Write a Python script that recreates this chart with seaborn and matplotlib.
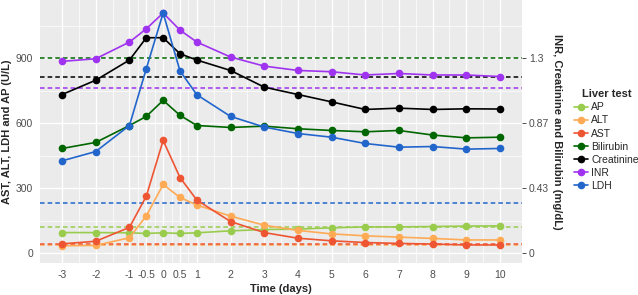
import numpy as np
import pandas as pd
import matplotlib
matplotlib.use('Agg')
import matplotlib.pyplot as plt
import seaborn as sns

# time points (days)
days = [-3, -2, -1, -0.5, 0, 0.5, 1, 2, 3, 4, 5, 6, 7, 8, 9, 10]
tick_labels = ['-3', '-2', '-1', '-0.5', '0', '0.5', '1', '2', '3', '4', '5', '6', '7', '8', '9', '10']

# values in left-axis units (INR, creatinine, bilirubin are rescaled by 900/1.3)
ap = [95, 95, 94, 91, 94, 91, 94, 103, 109, 111, 117, 121, 121, 123, 125, 126]
alt = [34, 36, 71, 172, 317, 257, 222, 171, 129, 105, 89, 80, 74, 68, 61, 61]
ast = [43, 55, 119, 263, 520, 349, 245, 146, 95, 69, 57, 49, 45, 42, 38, 38]
bilirubin = [483, 511, 589, 631, 705, 636, 589, 580, 586, 574, 566, 560, 566, 545, 532, 535]
creatinine = [732, 798, 891, 994, 994, 920, 891, 843, 766, 732, 698, 663, 669, 663, 666, 665]
inr = [885, 897, 974, 1035, 1108, 1029, 974, 905, 863, 843, 837, 822, 829, 822, 822, 815]
ldh = [426, 469, 589, 851, 1108, 841, 731, 631, 582, 552, 535, 506, 489, 492, 480, 483]

tests = ['AP', 'ALT', 'AST', 'Bilirubin', 'Creatinine', 'INR', 'LDH']
colors = ['#99CC4D', '#FFAA55', '#EE5533', '#006600', '#000000', '#A033F0', '#2266CC']
# upper reference limits, left-axis units
ref_limits = [120, 38, 40, 900, 815, 760, 233]

scale = 900 / 1.3

series = [ap, alt, ast, bilirubin, creatinine, inr, ldh]
df = pd.DataFrame({
    'Time': days * len(tests),
    'Value': np.concatenate(series),
    'Liver test': np.repeat(tests, len(days)),
})

sns.set_theme(style='darkgrid')
plt.rcParams['font.family'] = ['Liberation Sans', 'DejaVu Sans']

fig = plt.figure(figsize=(6.38, 2.95), dpi=100)
ax = fig.add_axes([0.063, 0.108, 0.755, 0.892])
ax.set_facecolor('#EBEBEB')

palette = dict(zip(tests, colors))
for t, c, r in zip(tests, colors, ref_limits):
    ax.axhline(r, color=c, ls='--', lw=1.1, dashes=(3, 2), zorder=2)

sns.lineplot(data=df, x='Time', y='Value', hue='Liver test', palette=palette,
             hue_order=tests, marker='o', markersize=5.5, markeredgewidth=0,
             lw=1.2, ax=ax, zorder=3)

ax.set_xlim(-3.65, 10.65)
ax.set_ylim(-46, 1168)
ax.set_xticks(days)
ax.set_xticklabels(tick_labels)
minor_x = [-2.5, -1.5, -0.75, -0.25, 0.25, 0.75, 1.5, 2.5, 3.5, 4.5, 5.5, 6.5, 7.5, 8.5, 9.5]
ax.set_xticks(minor_x, minor=True)
ax.set_yticks([0, 300, 600, 900])
ax.set_yticks([150, 450, 750, 1050], minor=True)
ax.grid(which='major', color='white', lw=1.0)
ax.grid(which='minor', color='white', lw=0.5)
for s in ax.spines.values():
    s.set_visible(False)
ax.tick_params(which='major', length=3, width=0.6, color='#333333', labelsize=7.5, labelcolor='#4D4D4D', pad=2)
ax.tick_params(which='minor', length=0)
ax.set_xlabel('Time (days)', fontsize=8, fontweight='bold', labelpad=3)
ax.set_ylabel('AST, ALT, LDH and AP (U/L)', fontsize=8, fontweight='bold', labelpad=3)

sec = ax.secondary_yaxis('right', functions=(lambda y: y / scale, lambda v: v * scale))
sec.set_yticks([0, 300 / scale, 600 / scale, 1.3])
sec.set_yticklabels(['0', '0.43', '0.87', '1.3'])
sec.tick_params(length=3, width=0.6, color='#333333', labelsize=7.5, labelcolor='#4D4D4D', pad=2)
sec.spines['right'].set_visible(False)
sec.set_ylabel('INR, Creatinine and Bilirubin (mg/dL)', fontsize=8, fontweight='bold',
               rotation=270, labelpad=9)

leg = fig.legend(*ax.get_legend_handles_labels(), title='Liver test', loc='center left',
                 bbox_to_anchor=(0.9, 0.525), frameon=False, fontsize=7.5, title_fontsize=8,
                 handlelength=1.3, labelspacing=0.3, handletextpad=0.35,
                 borderaxespad=0, borderpad=0, alignment='center')
leg.get_title().set_fontweight('bold')
ax.get_legend().remove()

fig.savefig('out.png', dpi=100)
